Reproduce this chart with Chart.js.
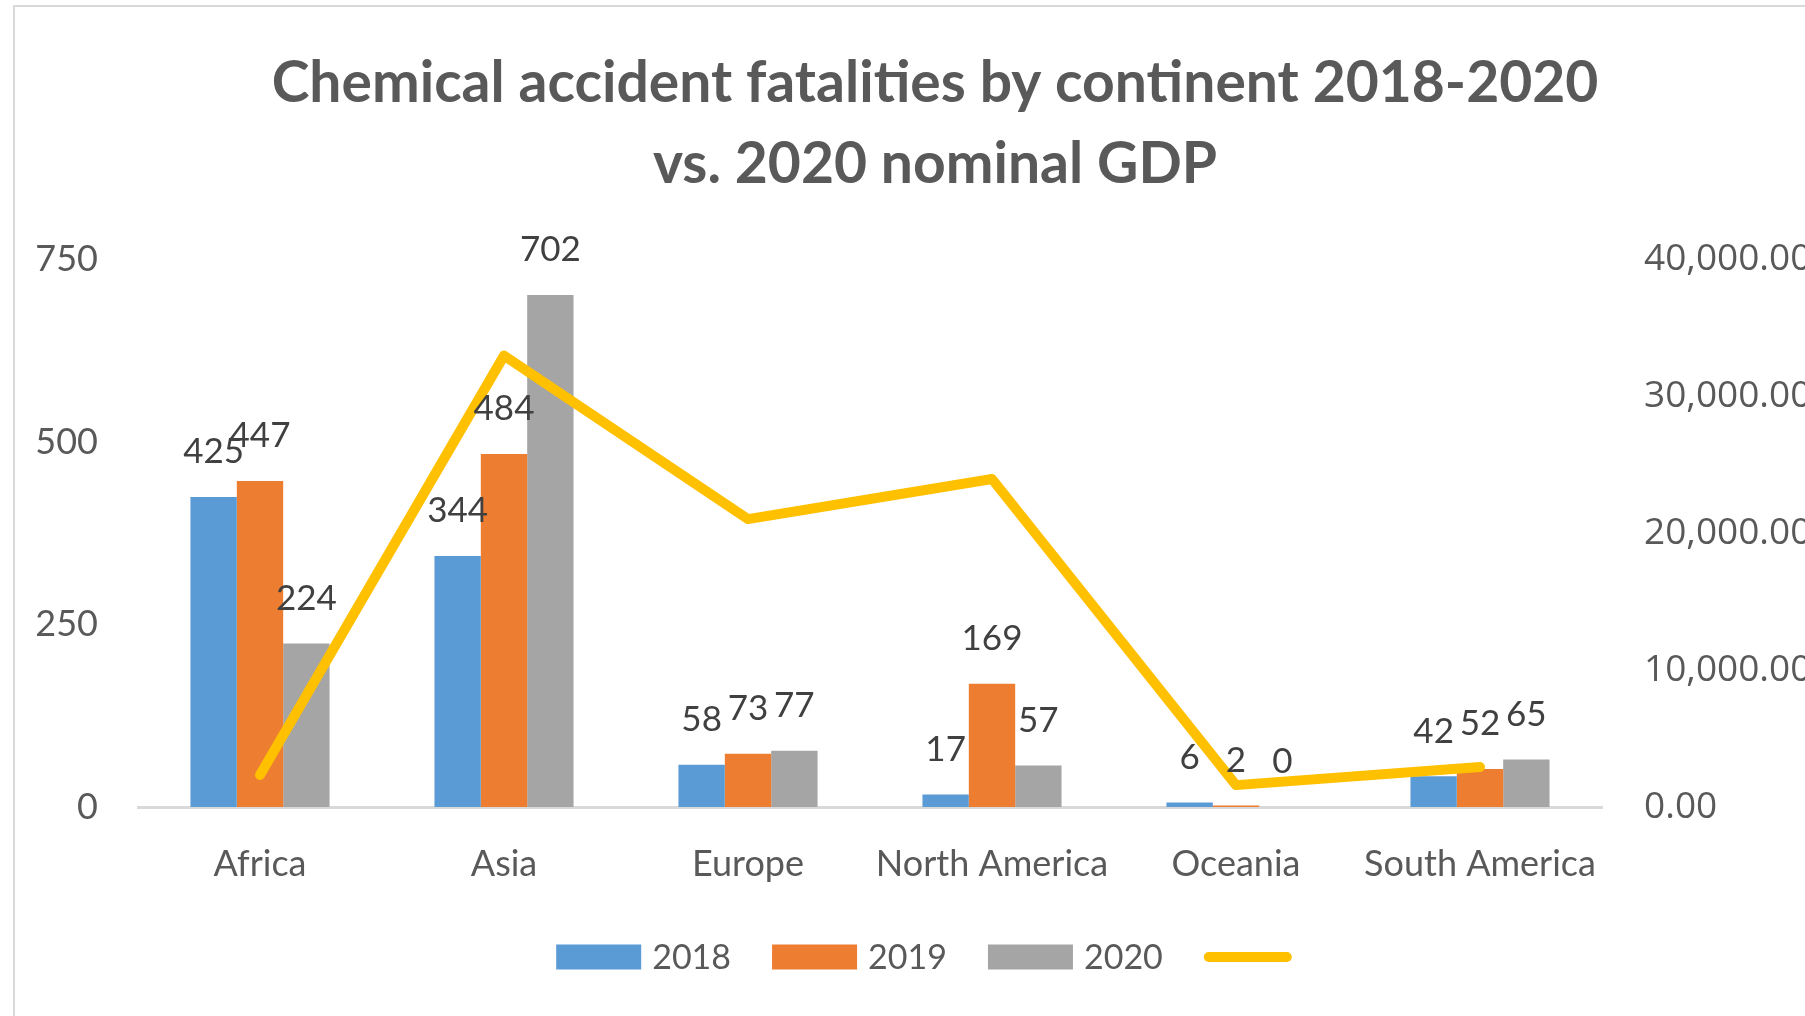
<!DOCTYPE html>
<html>
<head>
<meta charset="utf-8">
<script src="https://cdn.jsdelivr.net/npm/chart.js@4.4.1/dist/chart.umd.min.js"></script>
<style>
  html, body { margin: 0; padding: 0; background: #ffffff; }
  #wrap { width: 1805px; height: 1016px; }
</style>
</head>
<body>
<div id="wrap"><canvas id="c" width="1805" height="1016"></canvas></div>
<script>
const categories = ['Africa', 'Asia', 'Europe', 'North America', 'Oceania', 'South America'];
const fatalities2018 = [425, 344, 58, 17, 6, 42];
const fatalities2019 = [447, 484, 73, 169, 2, 52];
const fatalities2020 = [224, 702, 77, 57, 0, 65];
const gdp2020 = [2340, 33000, 21050, 23980, 1600, 2920];
const seriesLabels = ['2018', '2019', '2020', ''];
const titleLines = ['Chemical accident fatalities by continent 2018-2020', 'vs. 2020 nominal GDP'];
const leftTicks = [0, 250, 500, 750];
const rightTicks = [0, 10000, 20000, 30000, 40000];

const COLORS = ['#5B9BD5', '#ED7D31', '#A5A5A5', '#FFC000'];
const TEXT = '#595959';
const LABEL = '#404040';
const FONT = "Lato, 'Noto Sans', sans-serif";

const framePlugin = {
  id: 'frame',
  beforeDraw(chart) {
    const ctx = chart.ctx;
    ctx.save();
    ctx.fillStyle = '#ffffff';
    ctx.fillRect(0, 0, chart.width, chart.height);
    ctx.strokeStyle = '#D9D9D9';
    ctx.lineWidth = 2;
    ctx.beginPath();
    ctx.moveTo(14, chart.height);
    ctx.lineTo(14, 6);
    ctx.lineTo(chart.width, 6);
    ctx.stroke();
    ctx.restore();
  }
};

const barLabelPlugin = {
  id: 'barLabels',
  afterDatasetsDraw(chart) {
    const ctx = chart.ctx;
    ctx.save();
    ctx.font = '35px ' + FONT;
    ctx.fillStyle = LABEL;
    ctx.textAlign = 'center';
    ctx.textBaseline = 'middle';
    chart.data.datasets.forEach((ds, di) => {
      if (ds.type !== 'bar') return;
      const meta = chart.getDatasetMeta(di);
      meta.data.forEach((el, i) => {
        ctx.fillText(String(ds.data[i]), el.x, el.y - 45);
      });
    });
    ctx.restore();
  }
};

const legendPlugin = {
  id: 'customLegend',
  afterDraw(chart) {
    const ctx = chart.ctx;
    ctx.save();
    ctx.font = '34px ' + FONT;
    ctx.textBaseline = 'middle';
    const boxW = 85, boxH = 25, gapText = 11, gapItem = 41, lineW = 88;
    const items = chart.data.datasets.map((ds, i) => ({
      label: ds.label, color: COLORS[i], isLine: ds.type === 'line'
    }));
    let total = 0;
    items.forEach((it, i) => {
      const tw = it.label ? ctx.measureText(it.label).width : 0;
      it.tw = tw;
      total += (it.isLine ? lineW : boxW) + (tw ? gapText + tw : 0) + (i < items.length - 1 ? gapItem : 0);
    });
    const cy = 957;
    let x = 924 - total / 2;
    items.forEach((it) => {
      if (it.isLine) {
        ctx.strokeStyle = it.color;
        ctx.lineWidth = 10;
        ctx.lineCap = 'round';
        ctx.beginPath();
        ctx.moveTo(x + 5, cy);
        ctx.lineTo(x + lineW - 5, cy);
        ctx.stroke();
        x += lineW;
      } else {
        ctx.fillStyle = it.color;
        ctx.fillRect(x, cy - boxH / 2, boxW, boxH);
        x += boxW;
      }
      if (it.tw) {
        x += gapText;
        ctx.fillStyle = TEXT;
        ctx.textAlign = 'left';
        ctx.fillText(it.label, x, cy + 1);
        x += it.tw;
      }
      x += gapItem;
    });
    ctx.restore();
  }
};

const chart = new Chart(document.getElementById('c'), {
  data: {
    labels: categories,
    datasets: [
      { type: 'bar', label: seriesLabels[0], data: fatalities2018, backgroundColor: COLORS[0], yAxisID: 'y', order: 2 },
      { type: 'bar', label: seriesLabels[1], data: fatalities2019, backgroundColor: COLORS[1], yAxisID: 'y', order: 2 },
      { type: 'bar', label: seriesLabels[2], data: fatalities2020, backgroundColor: COLORS[2], yAxisID: 'y', order: 2 },
      { type: 'line', label: seriesLabels[3], data: gdp2020, borderColor: COLORS[3], backgroundColor: COLORS[3],
        borderWidth: 10, pointRadius: 0, borderCapStyle: 'round', borderJoinStyle: 'round', tension: 0,
        yAxisID: 'y1', order: 1 }
    ]
  },
  options: {
    responsive: false,
    animation: false,
    devicePixelRatio: 1,
    layout: { padding: { left: 0, right: -65, top: 0, bottom: 0 } },
    datasets: { bar: { categoryPercentage: 0.57, barPercentage: 1.0 } },
    plugins: {
      legend: { display: false },
      tooltip: { enabled: false },
      title: {
        display: true,
        text: titleLines,
        color: TEXT,
        font: { family: FONT, size: 57, weight: 'bold', lineHeight: 1.42 },
        padding: { top: 43, bottom: 55 }
      }
    },
    scales: {
      x: {
        grid: { display: false, drawTicks: false },
        border: { display: true, color: '#D9D9D9', width: 3 },
        ticks: { color: TEXT, font: { family: FONT, size: 36 }, padding: 36, maxRotation: 0, autoSkip: false },
        afterFit(scale) { scale.height = 209; }
      },
      y: {
        position: 'left',
        min: 0, max: 750,
        grid: { display: false, drawTicks: false },
        border: { display: false },
        ticks: { stepSize: 250, color: TEXT, font: { family: FONT, size: 36 }, padding: 40,
          callback: (v) => leftTicks.includes(v) ? String(v) : '' },
        afterFit(scale) { scale.width = 138; }
      },
      y1: {
        position: 'right',
        min: 0, max: 40000,
        grid: { display: false, drawTicks: false },
        border: { display: false },
        ticks: { stepSize: 10000, color: TEXT, font: { family: "'Open Sans', " + FONT, size: 37 }, padding: 42,
          callback: (v) => rightTicks.includes(v) ? v.toLocaleString('en-US', { minimumFractionDigits: 2, maximumFractionDigits: 2 }) : '' },
        afterFit(scale) { scale.width = 268; }
      }
    }
  },
  plugins: [framePlugin, barLabelPlugin, legendPlugin]
});
</script>
</body>
</html>
